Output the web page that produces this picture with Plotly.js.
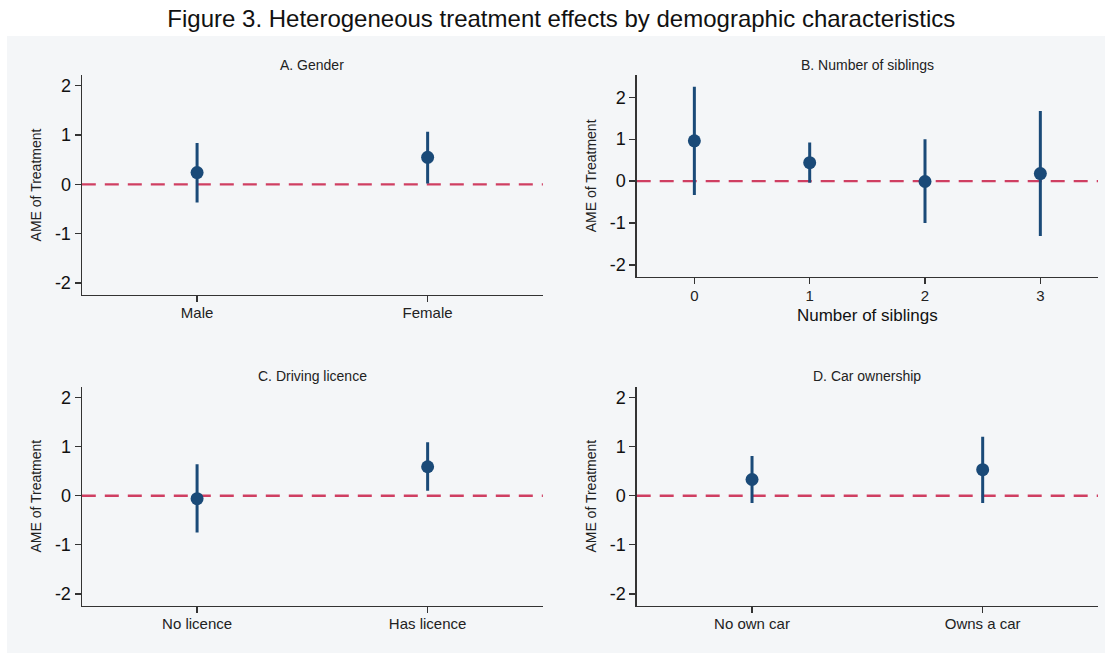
<!DOCTYPE html>
<html>
<head>
<meta charset="utf-8">
<script src="https://cdn.plot.ly/plotly-3.0.1.min.js"></script>
<style>html,body{margin:0;padding:0;background:#fff;}#chart{width:1105px;height:653px;}</style>
</head>
<body>
<div id="chart"></div>
<script>
// ---- Data ----
const genderCats = ["Male", "Female"];
const genderAME = [0.24, 0.55];
const genderLo = [-0.37, 0.02];
const genderHi = [0.84, 1.07];

const siblingCats = [0, 1, 2, 3];
const siblingAME = [0.96, 0.44, -0.01, 0.18];
const siblingLo = [-0.33, -0.04, -1.0, -1.31];
const siblingHi = [2.25, 0.92, 1.0, 1.67];

const licenceCats = ["No licence", "Has licence"];
const licenceAME = [-0.06, 0.59];
const licenceLo = [-0.75, 0.10];
const licenceHi = [0.64, 1.09];

const carCats = ["No own car", "Owns a car"];
const carAME = [0.33, 0.53];
const carLo = [-0.15, -0.15];
const carHi = [0.81, 1.20];

const yTickVals = [-2, -1, 0, 1, 2];
const yTickText = ["-2", "-1", "0", "1", "2"];

const panelTitles = ["A. Gender", "B. Number of siblings", "C. Driving licence", "D. Car ownership"];
const mainTitle = "Figure 3. Heterogeneous treatment effects by demographic characteristics";
const yTitle = "AME of Treatment";
const siblingsXTitle = "Number of siblings";

// ---- Styling ----
const W = 1105, H = 653;
const NAVY = "#1a4a78";
const DASH = "#cf3f62";
const FONT = "Arial, 'Liberation Sans', Arimo, sans-serif";

function px2x(p) { return p / W; }
function px2y(p) { return 1 - p / H; }

function trace(cats, ame, lo, hi, xa, ya) {
  return {
    type: "scatter", mode: "markers",
    x: cats.map((c, i) => i), y: ame,
    xaxis: xa, yaxis: ya,
    marker: { color: NAVY, size: 13 },
    error_y: {
      type: "data", symmetric: false,
      array: hi.map((h, i) => h - ame[i]),
      arrayminus: lo.map((l, i) => ame[i] - l),
      color: NAVY, thickness: 3, width: 0
    },
    hoverinfo: "skip", showlegend: false, cliponaxis: false
  };
}

const data = [
  trace(genderCats, genderAME, genderLo, genderHi, "x", "y"),
  trace(siblingCats, siblingAME, siblingLo, siblingHi, "x2", "y2"),
  trace(licenceCats, licenceAME, licenceLo, licenceHi, "x3", "y3"),
  trace(carCats, carAME, carLo, carHi, "x4", "y4")
];

function xaxis(domPx, cats, anchor, labelStandoff) {
  return {
    domain: [px2x(domPx[0]), px2x(domPx[1])],
    anchor: anchor,
    range: [-0.5, cats.length - 0.5],
    tickvals: cats.map((c, i) => i),
    ticktext: cats.map(c => String(c)),
    showline: true, linecolor: "#333", linewidth: 1.3,
    ticks: "outside", ticklen: 6, tickwidth: 1.3, tickcolor: "#333",
    showgrid: false, zeroline: false,
    tickfont: { family: FONT, size: 15, color: "#222" },
    ticklabelstandoff: labelStandoff,
    fixedrange: true, automargin: false
  };
}
function yaxis(domPx, range, anchor) {
  return {
    domain: [px2y(domPx[1]), px2y(domPx[0])],
    anchor: anchor,
    range: range,
    tickvals: yTickVals, ticktext: yTickText,
    showline: true, linecolor: "#333", linewidth: 1.3,
    ticks: "outside", ticklen: 6, tickwidth: 1.3, tickcolor: "#333",
    showgrid: false, zeroline: false,
    tickfont: { family: FONT, size: 18, color: "#111" },
    title: { text: yTitle, font: { family: FONT, size: 14, color: "#222" }, standoff: 10 },
    fixedrange: true, automargin: false
  };
}

const xA = [81.8, 542.9], xB = [636.7, 1098];
const yTop = [75, 295], yTopB = [75, 276.7], yBot = [386.7, 605.7];

const layout = {
  width: W, height: H,
  margin: { l: 0, r: 0, t: 0, b: 0 },
  paper_bgcolor: "#ffffff",
  plot_bgcolor: "rgba(0,0,0,0)",
  showlegend: false,
  title: { text: mainTitle, font: { family: FONT, size: 24, color: "#111" }, x: 0.508, xanchor: "center", y: 1 - 19 / H, yanchor: "middle" },
  xaxis: xaxis(xA, genderCats, "y", -2),
  yaxis: yaxis(yTop, [-2.245, 2.22], "x"),
  xaxis2: Object.assign(xaxis(xB, siblingCats, "y2", -1), {
    title: { text: siblingsXTitle, font: { family: FONT, size: 17, color: "#111" }, standoff: 6 }
  }),
  yaxis2: yaxis(yTopB, [-2.28, 2.53], "x2"),
  xaxis3: xaxis(xA, licenceCats, "y3", -2),
  yaxis3: yaxis(yBot, [-2.24, 2.22], "x3"),
  xaxis4: xaxis(xB, carCats, "y4", -2),
  yaxis4: yaxis(yBot, [-2.24, 2.22], "x4"),
  shapes: [
    { type: "rect", xref: "paper", yref: "paper", x0: px2x(7), x1: 1, y0: 0, y1: px2y(36),
      fillcolor: "#f4f6f8", line: { width: 0 }, layer: "below" }
  ].concat(["", "2", "3", "4"].map(s => ({
    type: "line", xref: "x" + s + " domain", yref: "y" + s, x0: 0, x1: 1, y0: 0, y1: 0,
    line: { color: DASH, width: 2.4, dash: "14px,9px" }, layer: "below"
  }))),
  annotations: [
    { text: panelTitles[0], x: (xA[0] + xA[1]) / 2, y: 65 },
    { text: panelTitles[1], x: (xB[0] + xB[1]) / 2, y: 65 },
    { text: panelTitles[2], x: (xA[0] + xA[1]) / 2, y: 376 },
    { text: panelTitles[3], x: (xB[0] + xB[1]) / 2, y: 376 }
  ].map(a => ({
    text: a.text, xref: "paper", yref: "paper", x: px2x(a.x), y: px2y(a.y),
    xanchor: "center", yanchor: "middle", showarrow: false,
    font: { family: FONT, size: 14, color: "#222" }
  }))
};

Plotly.newPlot("chart", data, layout, { staticPlot: true, displayModeBar: false });
</script>
</body>
</html>
